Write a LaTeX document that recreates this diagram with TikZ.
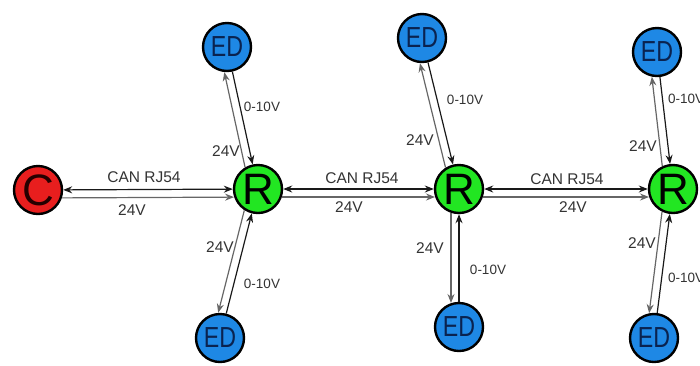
\documentclass[tikz,border=0pt]{standalone}
\usepackage{fontspec}
\setmainfont{Liberation Sans}
\usetikzlibrary{arrows.meta,calc}
\definecolor{edblue}{RGB}{30,136,229}
\definecolor{rgreen}{RGB}{34,230,34}
\definecolor{cred}{RGB}{232,30,30}
\definecolor{edtext}{RGB}{10,35,80}
\definecolor{lbl}{RGB}{51,51,51}
\begin{document}
\begin{tikzpicture}[x=1pt,y=-1pt,
  >={Stealth[length=9pt,width=7pt,inset=3pt]},
  dev/.style={circle,draw=black,line width=2.4pt,minimum size=48pt,inner sep=0pt},
  ednode/.style={dev,fill=edblue,text=edtext,font=\fontsize{29}{29}\selectfont},
  rnode/.style={dev,fill=rgreen,text=black,font=\fontsize{44}{44}\selectfont},
  cnode/.style={dev,fill=cred,text=black!85!red,font=\fontsize{44}{44}\selectfont},
  sig/.style={draw=black!90,line width=1.2pt},
  pwr/.style={draw=black!60,line width=1.2pt,shorten <=24pt,shorten >=24pt},
  lab/.style={text=lbl,font=\fontsize{15.5}{15.5}\selectfont,inner sep=0pt},
  labs/.style={text=lbl,font=\fontsize{13.5}{13.5}\selectfont,inner sep=0pt}
]
\useasboundingbox (0,0) rectangle (700,365);
\node[cnode] (C) at (38,190) {C};
\node[rnode] (R1) at (258,189) {R};
\node[rnode] (R2) at (459,189) {R};
\node[rnode] (R3) at (673,189) {R};
\node[ednode] (E1t) at (227,47) {\scalebox{0.8}[1]{ED}};
\node[ednode] (E1b) at (220,338) {\scalebox{0.8}[1]{ED}};
\node[ednode] (E2t) at (422,38) {\scalebox{0.8}[1]{ED}};
\node[ednode] (E2b) at (459,327) {\scalebox{0.8}[1]{ED}};
\node[ednode] (E3t) at (657,52) {\scalebox{0.8}[1]{ED}};
\node[ednode] (E3b) at (654,338) {\scalebox{0.8}[1]{ED}};
% horizontal links
\draw[sig,<->] (C) -- (R1);
\draw[pwr,->] ($(C.center)!8pt!-90:(R1.center)$) -- ($(R1.center)!8pt!90:(C.center)$);
\draw[sig,<->] (R1) -- (R2);
\draw[pwr,->] ($(R1.center)!8pt!-90:(R2.center)$) -- ($(R2.center)!8pt!90:(R1.center)$);
\draw[sig,<->] (R2) -- (R3);
\draw[pwr,->] ($(R2.center)!8pt!-90:(R3.center)$) -- ($(R3.center)!8pt!90:(R2.center)$);
% top links
\draw[sig,->] (E1t) -- (R1);
\draw[pwr,<-] ($(E1t.center)!8pt!-90:(R1.center)$) -- ($(R1.center)!8pt!90:(E1t.center)$);
\draw[sig,->] (E2t) -- (R2);
\draw[pwr,<-] ($(E2t.center)!8pt!-90:(R2.center)$) -- ($(R2.center)!8pt!90:(E2t.center)$);
\draw[sig,->] (E3t) -- (R3);
\draw[pwr,<-] ($(E3t.center)!8pt!-90:(R3.center)$) -- ($(R3.center)!8pt!90:(E3t.center)$);
% bottom links
\draw[sig,<-] (R1) -- (E1b);
\draw[pwr,->] ($(R1.center)!8pt!-90:(E1b.center)$) -- ($(E1b.center)!8pt!90:(R1.center)$);
\draw[sig,<-] (R2) -- (E2b);
\draw[pwr,->] ($(R2.center)!8pt!-90:(E2b.center)$) -- ($(E2b.center)!8pt!90:(R2.center)$);
\draw[sig,<-] (R3) -- (E3b);
\draw[pwr,->] ($(R3.center)!8pt!-90:(E3b.center)$) -- ($(E3b.center)!8pt!90:(R3.center)$);
% labels
\node[lab] (l1) at (144,177) {CAN RJ54};
\node[lab] (l2) at (132,210) {24V};
\node[lab] (l3) at (362,178) {CAN RJ54};
\node[lab] (l4) at (349,207) {24V};
\node[lab] (l5) at (567,179) {CAN RJ54};
\node[lab] (l6) at (573,207) {24V};
\node[labs] (l7) at (262,107) {0-10V};
\node[lab] (l8) at (226,151) {24V};
\node[lab] (l9) at (220,247) {24V};
\node[labs] (l10) at (262,284) {0-10V};
\node[labs] (l11) at (465,100) {0-10V};
\node[lab] (l12) at (420,140) {24V};
\node[lab] (l13) at (430,248) {24V};
\node[labs] (l14) at (488,270) {0-10V};
\node[labs,anchor=west] (l15) at (668,99) {0-10V};
\node[lab] (l16) at (643,146) {24V};
\node[lab] (l17) at (642,243) {24V};
\node[labs,anchor=west] (l18) at (668,278) {0-10V};
\end{tikzpicture}
\end{document}
